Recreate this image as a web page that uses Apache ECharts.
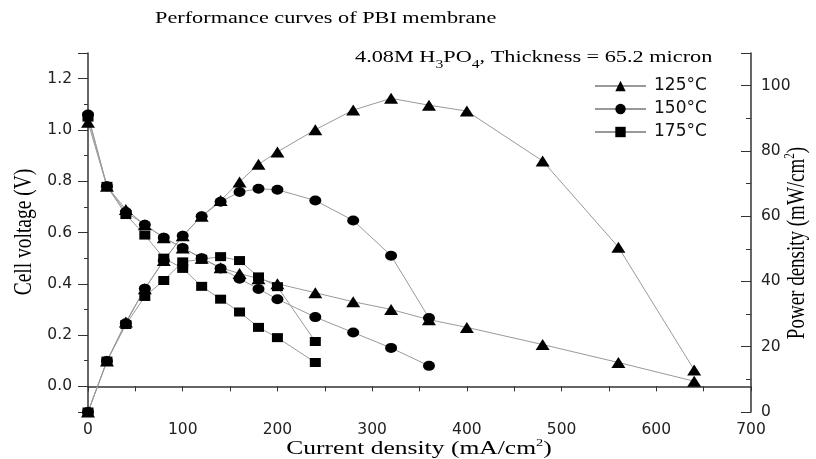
<!DOCTYPE html>
<html>
<head>
<meta charset="utf-8">
<script src="https://cdn.jsdelivr.net/npm/echarts@6/dist/echarts.min.js"></script>
<style>
html,body{margin:0;padding:0;background:#fff;}
#chart{width:816px;height:459px;}
</style>
</head>
<body>
<div id="chart"></div>
<script>
//数据 125°C
let current125=[0,20,40,60,80,100,120,140,160,180,200,240,280,320,360,400,480,560,640];
let volt125=[1.03,0.78,0.69,0.63,0.58,0.54,0.50,0.463,0.44,0.42,0.40,0.365,0.33,0.30,0.26,0.23,0.163,0.093,0.02];
let power125=[0,15.6,27.6,37.8,46.4,54,60,64.8,70.5,75.9,79.7,86.5,92.5,96.1,94,92.2,76.9,50.5,12.9];
//150°C
let current150=[0,20,40,60,80,100,120,140,160,180,200,240,280,320,360];
let volt150=[1.06,0.78,0.68,0.63,0.58,0.54,0.50,0.46,0.42,0.38,0.34,0.27,0.21,0.15,0.08];
let power150=[0,15.6,27.2,37.8,46.4,54,60,64.4,67.4,68.4,68.1,64.8,58.7,47.9,28.8];
//175°C
let current175=[0,20,40,60,80,100,120,140,160,180,200,240];
let volt175=[1.05,0.78,0.67,0.59,0.50,0.46,0.39,0.34,0.29,0.23,0.19,0.093];
let power175=[0,15.6,26.8,35.4,40.3,46,46.8,47.6,46.4,41.4,38.4,21.6];
let names=["125°C","150°C","175°C"];
let symbols=["triangle","circle","rect"];
//原图横向拉伸,符号也是扁的
let sizes=[[14,11],[12,10],[11,9]];

let serif="'Liberation Serif','Times New Roman',serif";
let sans="'DejaVu Sans',Arial,sans-serif";
let stretch=1.31;

function pairs(xs,ys){
	let out=[];
	for(let i=0;i<xs.length;i++){
		out.push([xs[i],ys[i]]);
	}
	return out;
}

function makeSeries(idx,xs,ys,axis){
	return {
		name:names[idx],
		type:"line",
		yAxisIndex:axis,
		data:pairs(xs,ys),
		symbol:symbols[idx],
		symbolSize:sizes[idx],
		clip:false,
		lineStyle:{color:"#999",width:1},
		itemStyle:{color:"#000"},
		emphasis:{disabled:true}
	};
}

/**拉伸的文字*/
function stretchText(text,x,y,size,rot,extra){
	let el={
		type:"text",x:x,y:y,rotation:rot,silent:true,
		style:Object.assign({text:text,fontFamily:serif,fontSize:size,fill:"#000",
			align:rot?"center":"left",verticalAlign:"middle"},extra||{})
	};
	//旋转后横向拉伸要放在本地y方向
	if(rot){
		el.scaleY=stretch;
	}else{
		el.scaleX=stretch;
	}
	return el;
}

let axisLine={show:true,lineStyle:{color:"#333",width:1.5}};
let tickStyle={color:"#333",width:1};
let labelStyle={fontFamily:sans,fontSize:15.5,color:"#222"};
let sup={fontSize:11,verticalAlign:"top",lineHeight:22,fontFamily:serif,fill:"#000"};

let chart=echarts.init(document.getElementById("chart"));
let option={
	animation:false,
	graphic:[
		stretchText("Performance curves of PBI membrane",155,19,17,0),
		stretchText("4.08M H{s|3}PO{s|4}, Thickness = 65.2 micron",355,58,17,0,
			{rich:{s:{fontSize:12,verticalAlign:"bottom",lineHeight:26,fontFamily:serif,fill:"#000"}}}),
		stretchText("Current density (mA/cm{p|2})",419,449,19.5,0,{align:"center",rich:{p:sup}}),
		stretchText("Cell voltage (V)",24,232,19.5,Math.PI/2),
		stretchText("Power density (mW/cm{p|2})",797,243,19,Math.PI/2,{rich:{p:sup}})
	],
	legend:{
		orient:"vertical",
		left:589,top:72,
		itemWidth:51,itemHeight:13,itemGap:5,
		data:names,
		textStyle:{fontFamily:sans,fontSize:17,color:"#111",lineHeight:18,padding:[0,0,0,3]}
	},
	grid:{left:88,right:65,top:53,bottom:47,outerBoundsMode:"none"},
	xAxis:{
		type:"value",min:0,max:700,interval:100,
		axisLine:axisLine,
		axisTick:{show:true,length:5,lineStyle:tickStyle},
		minorTick:{show:true,splitNumber:2,length:5,lineStyle:tickStyle},
		axisLabel:Object.assign({margin:10},labelStyle),
		splitLine:{show:false}
	},
	yAxis:[{
		type:"value",min:-0.1,max:1.3,splitNumber:7,
		axisLine:axisLine,
		axisTick:{show:true,length:10,lineStyle:tickStyle},
		minorTick:{show:true,splitNumber:2,length:4,lineStyle:tickStyle},
		axisLabel:Object.assign({margin:16,showMinLabel:false,showMaxLabel:false,
			formatter:function(v){return v.toFixed(1);}},labelStyle),
		splitLine:{show:false}
	},{
		type:"value",min:0,max:110,interval:20,position:"right",
		axisLine:axisLine,
		axisTick:{show:true,inside:true,length:10,lineStyle:tickStyle},
		minorTick:{show:true,splitNumber:2,length:5,lineStyle:tickStyle},
		axisLabel:Object.assign({margin:10,showMaxLabel:false},labelStyle),
		splitLine:{show:false}
	}],
	series:[
		makeSeries(0,current125,volt125,0),
		makeSeries(1,current150,volt150,0),
		makeSeries(2,current175,volt175,0),
		makeSeries(0,current125,power125,1),
		makeSeries(1,current150,power150,1),
		makeSeries(2,current175,power175,1)
	]
};
chart.setOption(option);
</script>
</body>
</html>
